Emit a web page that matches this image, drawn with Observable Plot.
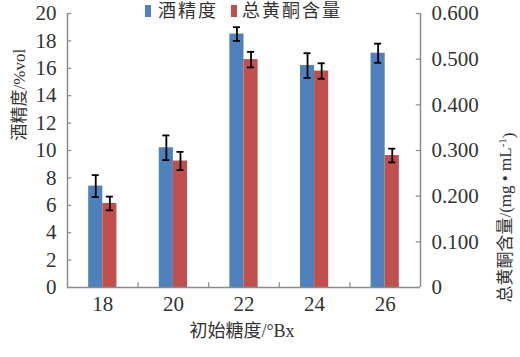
<!DOCTYPE html>
<html>
<head>
<meta charset="utf-8">
<script src="https://cdn.jsdelivr.net/npm/d3@7"></script>
<script src="https://cdn.jsdelivr.net/npm/@observablehq/plot@0.6"></script>
<style>
  body { margin: 0; background: white; }
  #wrap { position: relative; width: 520px; height: 357px; font-family: "Liberation Serif", "Noto Sans CJK SC", serif; }
  #legend { position: absolute; top: 0; left: 0; width: 520px; height: 24px; z-index: 2; }
  .sw { position: absolute; top: 5px; width: 6px; height: 12px; }
  .lt { position: absolute; top: -1px; font-size: 18px; letter-spacing: 2px; color: #333; line-height: 24px; white-space: nowrap; }
  #chart { position: absolute; top: 0; left: 0; }
</style>
</head>
<body>
<div id="wrap">
  <div id="chart"></div>
  <div id="legend"></div>
</div>
<script>
// Data
const categories = [18, 20, 22, 24, 26];
const alcohol = [7.4, 10.2, 18.5, 16.2, 17.1];        // %vol
const alcoholErr = [0.8, 0.9, 0.5, 0.9, 0.7];
const flavonoid = [0.184, 0.277, 0.499, 0.474, 0.289]; // mg/mL
const flavonoidErr = [0.015, 0.02, 0.017, 0.017, 0.015];
const leftTicks = [0, 2, 4, 6, 8, 10, 12, 14, 16, 18, 20];
const rightTicks = [0, 0.1, 0.2, 0.3, 0.4, 0.5, 0.6];
const seriesNames = ["酒精度", "总黄酮含量"];
const colors = ["#4F81BD", "#C0504D"];
const xTitle = "初始糖度/°Bx";
const yTitle = "酒精度/%vol";
const y2TitleMain = "总黄酮含量/(mg • mL";
const y2TitleSup = "-1";
const y2TitleEnd = ")";

const ratio = 20 / 0.6; // right axis -> left axis units
const rows = categories.map((c, i) => ({
  c, a: alcohol[i], ae: alcoholErr[i],
  f: flavonoid[i] * ratio, fe: flavonoidErr[i] * ratio
}));
const bw = 0.4, cap = 0.1;
const axisColor = "#8c8c8c";
const textColor = "#333";
const boundaries = categories.slice(0, -1).map((c, i) => (c + categories[i + 1]) / 2);

const plot = Plot.plot({
  width: 520, height: 357,
  marginLeft: 67, marginRight: 100, marginTop: 13, marginBottom: 70,
  x: {domain: [17, 27]},
  y: {domain: [0, 20]},
  style: {fontFamily: '"Liberation Serif", "Noto Sans CJK SC", serif', fontSize: "21px", color: textColor, background: "white"},
  marks: [
    Plot.rectY(rows, {x1: d => d.c - bw, x2: d => d.c, y1: 0, y2: "a", fill: colors[0]}),
    Plot.rectY(rows, {x1: d => d.c, x2: d => d.c + bw, y1: 0, y2: "f", fill: colors[1]}),
    // error bars
    Plot.ruleX(rows, {x: d => d.c - bw / 2, y1: d => d.a - d.ae, y2: d => d.a + d.ae, stroke: "black", strokeWidth: 1.8}),
    Plot.ruleY(rows, {y: d => d.a + d.ae, x1: d => d.c - bw / 2 - cap, x2: d => d.c - bw / 2 + cap, stroke: "black", strokeWidth: 1.8}),
    Plot.ruleY(rows, {y: d => d.a - d.ae, x1: d => d.c - bw / 2 - cap, x2: d => d.c - bw / 2 + cap, stroke: "black", strokeWidth: 1.8}),
    Plot.ruleX(rows, {x: d => d.c + bw / 2, y1: d => d.f - d.fe, y2: d => d.f + d.fe, stroke: "black", strokeWidth: 1.8}),
    Plot.ruleY(rows, {y: d => d.f + d.fe, x1: d => d.c + bw / 2 - cap, x2: d => d.c + bw / 2 + cap, stroke: "black", strokeWidth: 1.8}),
    Plot.ruleY(rows, {y: d => d.f - d.fe, x1: d => d.c + bw / 2 - cap, x2: d => d.c + bw / 2 + cap, stroke: "black", strokeWidth: 1.8}),
    // axis lines
    Plot.ruleX([17, 27], {stroke: axisColor, strokeWidth: 1.5}),
    Plot.ruleY([0], {stroke: axisColor, strokeWidth: 1.5}),
    // inward ticks
    Plot.ruleY(leftTicks, {x1: 17, x2: 17.12, stroke: axisColor, strokeWidth: 1.2}),
    Plot.ruleY(rightTicks.map(t => t * ratio), {x1: 26.88, x2: 27, stroke: axisColor, strokeWidth: 1.2}),
    Plot.ruleX(boundaries, {y1: 0, y2: 0.35, stroke: axisColor, strokeWidth: 1.2}),
    // tick labels
    Plot.axisY({anchor: "left", ticks: leftTicks, tickSize: 0, tickPadding: 11, label: null}),
    Plot.axisY({anchor: "right", ticks: rightTicks.map(t => t * ratio), tickSize: 0, tickPadding: 11, label: null,
      tickFormat: d => { const v = d / ratio; return Math.abs(v) < 1e-9 ? "0" : v.toFixed(3); }}),
    Plot.axisX({ticks: categories, tickSize: 0, tickPadding: 9, label: null, tickFormat: d => String(d)}),
    // titles
    Plot.text([yTitle], {frameAnchor: "left", rotate: -90, dx: -48, dy: -10, fontSize: 17, fill: textColor}),
    Plot.text([y2TitleMain + y2TitleSup + y2TitleEnd], {frameAnchor: "right", rotate: -90, dx: 85, dy: -18, fontSize: 17, fill: textColor}),
    Plot.text([xTitle], {frameAnchor: "bottom", dx: -2, dy: 49, fontSize: 18, fill: textColor})
  ]
});
document.getElementById("chart").appendChild(plot);

// superscript in right title
d3.select(plot).selectAll("text").each(function() {
  if (this.textContent === y2TitleMain + y2TitleSup + y2TitleEnd) {
    const t = d3.select(this);
    t.text(null);
    t.append("tspan").text(y2TitleMain);
    t.append("tspan").attr("dy", "-0.45em").attr("font-size", "11px").text(y2TitleSup);
    t.append("tspan").attr("dy", "0.45em").text(y2TitleEnd);
  }
});

// legend
const legend = document.getElementById("legend");
const legendPos = [[145, 158], [231, 242]];
seriesNames.forEach((name, i) => {
  const sw = document.createElement("div");
  sw.className = "sw"; sw.style.left = legendPos[i][0] + "px"; sw.style.background = colors[i];
  const t = document.createElement("div");
  t.className = "lt"; t.style.left = legendPos[i][1] + "px"; t.textContent = name;
  legend.appendChild(sw); legend.appendChild(t);
});
</script>
</body>
</html>
